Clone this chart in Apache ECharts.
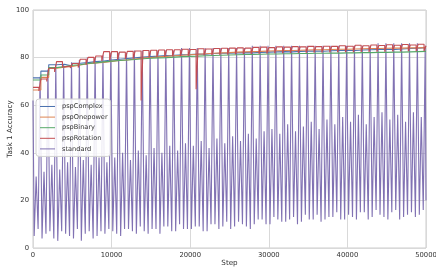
<!DOCTYPE html>
<html><head><meta charset="utf-8">
<script src="https://cdn.jsdelivr.net/npm/echarts@6/dist/echarts.min.js"></script>
<style>html,body{margin:0;padding:0;background:#fff}#c{width:436px;height:269px}</style>
</head><body><div id="c"></div>
<script>
// ---- data ----
const periodStarts = [0,1000,2000,3000,4000,5000,6000,7000,8000,9000,10000,11000,12000,13000,14000,15000,16000,17000,18000,19000,20000,21000,22000,23000,24000,25000,26000,27000,28000,29000,30000,31000,32000,33000,34000,35000,36000,37000,38000,39000,40000,41000,42000,43000,44000,45000,46000,47000,48000,49000];
const stepEnd = 50000;
const xTicks = [0,10000,20000,30000,40000,50000];
const yTicks = [0,20,40,60,80,100];

// standard: within each period -> first dip, middle bump, second dip, peak
const stdOffsets = [150,400,650,900];
const stdStart = 62, stdFinal = 20;
const stdDip1 = [5,4,7,3,6,4,3,7,5,6, 7,5,8,6,7,8,6,9,7,8, 8,9,7,10,9,8,11,9,10,12, 10,12,11,13,11,12,14,12,13,12, 14,12,15,13,14,12,16,13,15,14];
const stdMid  = [30,32,35,33,36,34,37,35,38,36, 38,40,37,41,39,42,40,43,41,44, 43,45,42,46,44,47,45,48,46,49, 50,48,52,49,51,53,50,54,52,55, 53,56,52,55,57,54,56,53,57,55];
const stdDip2 = [8,6,4,7,5,8,6,4,7,8, 6,8,7,9,6,8,9,7,10,8, 9,7,10,8,11,9,10,8,12,10, 13,11,12,10,14,12,11,13,15,12, 13,15,12,16,13,15,12,14,13,16];
const stdPeak = [72,75,77,77,78,79,80,80,81,82, 82,82,83,83,83,83,83,83,84,84, 84,84,84,84,84,84,84,85,85,85, 85,85,85,85,85,85,85,85,85,85, 85,85,85,86,86,86,86,86,86,85];

// psp variants, one value per 1000 steps (0 .. 50000)
const pspComplex = [71.5,74.3,77.0,77.2,76.5,77.6,77.9,78.3,78.6,79.0, 79.3,79.6,79.9,80.2,80.4,80.6,80.9,81.0,81.2,81.3, 81.5,81.4,81.7,81.8,81.9,82.0,82.1,82.0,82.2,82.3, 82.4,82.5,82.4,82.6,82.7,82.8,82.7,82.9,83.0,83.1, 83.0,83.2,83.3,83.4,83.5,83.4,83.6,83.8,84.0,84.2, 84.3];
const pspOnepower = [66.4,71.7,75.5,76.0,76.3,76.9,77.4,77.8,78.0,78.4, 78.8,79.0,79.4,79.8,80.0,80.3,80.5,80.8,81.0,81.2, 81.4,81.6,81.8,82.0,82.1,82.3,82.4,82.5,82.6,82.8, 82.9,83.0,83.0,83.1,83.2,83.3,83.3,83.4,83.5,83.5, 83.6,83.7,83.8,83.8,83.9,84.0,84.0,84.1,84.1,84.2, 84.2];
const pspBinary = [70.6,72.7,75.8,76.2,76.8,77.0,77.5,77.8,78.2,78.5, 78.8,79.0,79.2,79.5,79.7,79.9,80.0,80.2,80.4,80.5, 80.6,80.8,80.9,81.0,81.1,81.2,81.3,81.3,81.4,81.5, 81.5,81.6,81.6,81.7,81.7,81.8,81.8,81.9,81.9,82.0, 82.0,82.1,82.1,82.2,82.2,82.3,82.3,82.4,82.5,82.6, 82.7];
// pspRotation: high part then low part of each period
const rotLowOffset = 750;
const rotHigh = [67.5,71,75.5,78.3,76.5,77.5,79.3,80.1,80.7,82.5, 82.5,82.3,82.6,82.8,83.0,83.1,83.2,83.3,83.3,83.5, 83.4,83.7,83.6,83.8,83.9,84.0,84.1,84.0,84.3,84.4, 84.2,84.5,84.4,84.6,84.5,84.7,84.6,84.8,84.7,85.0, 84.8,85.2,85.0,85.3,85.1,85.4,85.2,85.5,85.3,85.6];
const rotLow = [66,70,74,76.0,75.6,75.8,77.0,77.6,78.6,78.8, 79.2,79.4,79.6,62.0,80.0,80.2,80.3,80.5,80.6,80.7, 66.7,81.0,81.1,81.2,81.3,81.4,81.5,81.5,81.6,81.7, 81.8,81.8,81.9,82.0,82.0,82.1,82.1,82.2,82.2,82.3, 82.3,82.4,82.4,82.5,82.5,82.6,82.6,82.7,82.7,82.8];
const rotFinal = 85.0;

// ---- build series ----
const stdData = [[0, stdStart]];
periodStarts.forEach((s, k) => {
  stdData.push([s + stdOffsets[0], stdDip1[k]]);
  stdData.push([s + stdOffsets[1], stdMid[k]]);
  stdData.push([s + stdOffsets[2], stdDip2[k]]);
  stdData.push([s + stdOffsets[3], stdPeak[k]]);
});
stdData.push([stepEnd, stdFinal]);

const steps1000 = periodStarts.concat([stepEnd]);
const pair = arr => steps1000.map((s, i) => [s, arr[i]]);
const rotData = [];
periodStarts.forEach((s, k) => {
  rotData.push([s, rotHigh[k]]);
  rotData.push([s + rotLowOffset, rotLow[k]]);
});
rotData.push([stepEnd, rotFinal]);

const colors = ['#4c72b0', '#dd8452', '#55a868', '#c44e52', '#8172b3'];
const mk = (name, data, color, step, z) => ({
  name, type: 'line', data, step: step || false, showSymbol: false, symbol: 'none',
  lineStyle: { width: 1.1, color }, itemStyle: { color }, z, animation: false
});

const chart = echarts.init(document.getElementById('c'), null, { renderer: 'canvas' });
chart.setOption({
  animation: false,
  backgroundColor: '#fff',
  grid: { left: 33, right: 10, top: 10, bottom: 21, containLabel: false, outerBoundsMode: 'none',
          show: true, borderColor: '#cccccc', borderWidth: 1, backgroundColor: 'transparent' },
  legend: {
    orient: 'vertical', left: 36, top: 99, itemWidth: 15, itemHeight: 1, itemGap: 3.6, z: 20, zlevel: 1,
    backgroundColor: 'rgba(255,255,255,0.85)', borderColor: '#d0d0d0', borderWidth: 1, borderRadius: 3,
    padding: [4, 3, 4, 4],
    icon: 'rect',
    textStyle: { fontFamily: 'DejaVu Sans', fontSize: 6.6, color: '#333', padding: [0, 0, 0, 2] },
    data: ['pspComplex', 'pspOnepower', 'pspBinary', 'pspRotation', 'standard']
  },
  xAxis: {
    type: 'value', min: 0, max: 50000, interval: 10000,
    name: 'Step', nameLocation: 'middle', nameGap: 12, nameMoveOverlap: false,
    nameTextStyle: { fontFamily: 'DejaVu Sans', fontSize: 7.2, color: '#333' },
    axisLine: { show: false }, axisTick: { show: false },
    axisLabel: { fontFamily: 'DejaVu Sans', fontSize: 6.8, color: '#333', margin: 4, showMaxLabel: true,
                 formatter: v => String(v) },
    splitLine: { show: true, lineStyle: { color: '#d9d9d9', width: 1 } }
  },
  yAxis: {
    type: 'value', min: 0, max: 100, interval: 20,
    name: 'Task 1 Accuracy', nameLocation: 'middle', nameGap: 19, nameMoveOverlap: false,
    nameTextStyle: { fontFamily: 'DejaVu Sans', fontSize: 7.2, color: '#333' },
    axisLine: { show: false }, axisTick: { show: false },
    axisLabel: { fontFamily: 'DejaVu Sans', fontSize: 6.8, color: '#333', margin: 4, formatter: v => String(v) },
    splitLine: { show: true, lineStyle: { color: '#d9d9d9', width: 1 } }
  },
  series: [
    mk('standard', stdData, colors[4], false, 2),
    mk('pspComplex', pair(pspComplex), colors[0], 'end', 3),
    mk('pspOnepower', pair(pspOnepower), colors[1], 'end', 3),
    mk('pspBinary', pair(pspBinary), colors[2], 'end', 3),
    mk('pspRotation', rotData, colors[3], 'end', 3)
  ]
});
</script></body></html>
